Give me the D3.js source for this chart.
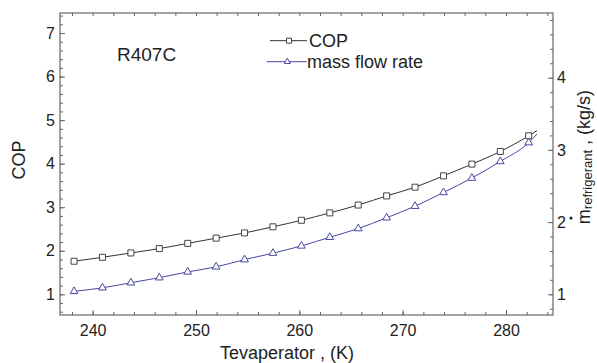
<!DOCTYPE html>
<html>
<head>
<meta charset="utf-8">
<script src="https://cdn.jsdelivr.net/npm/d3@7"></script>
<style>
  body { margin: 0; background: #fff; }
  text { font-family: "Liberation Sans", Arial, sans-serif; fill: #222; }
</style>
</head>
<body>
<div id="chart"></div>
<script>
// evaporator temperature at each marker (K)
var temps = [238.2, 240.95, 243.7, 246.45, 249.2, 251.95, 254.7, 257.45, 260.2,
             262.95, 265.7, 268.45, 271.2, 273.95, 276.7, 279.45, 282.2];
var cop = [1.76, 1.85, 1.95, 2.05, 2.17, 2.29, 2.41, 2.55, 2.70,
           2.87, 3.05, 3.26, 3.46, 3.72, 3.99, 4.28, 4.64];
var massFlow = [1.04, 1.09, 1.16, 1.23, 1.31, 1.38, 1.48, 1.57, 1.67,
                1.79, 1.91, 2.06, 2.22, 2.41, 2.61, 2.84, 3.10];
// curves run a little past the last marker
var endTemp = 283.0, endCop = 4.76, endMass = 3.22;

var xMajor = [240, 250, 260, 270, 280];
var copMajor = [1, 2, 3, 4, 5, 6, 7];
var massMajor = [1, 2, 3, 4];

var svgWidth = 597, svgHeight = 363;
var plotL = 60, plotR = 553, plotT = 13, plotB = 315;

var svg = d3.select('#chart').append('svg')
    .attr('width', svgWidth).attr('height', svgHeight);

var x = d3.scaleLinear().domain([236.84, 284.55]).range([plotL, plotR]);
var yL = d3.scaleLinear().domain([0.525, 7.46]).range([plotB, plotT]);
var yR = d3.scaleLinear().domain([0.713, 4.896]).range([plotB, plotT]);

function steps(a, b, s) {
    var out = [];
    for (var v = a; v <= b + 1e-9; v += s) out.push(+v.toFixed(2));
    return out;
}

function drawAxis(axisFn, scale, minor, major, pos, pad, fs) {
    var g1 = svg.append('g').attr('transform', pos)
        .call(axisFn(scale).tickValues(minor).tickSize(-3).tickFormat(''));
    var g2 = svg.append('g').attr('transform', pos)
        .call(axisFn(scale).tickValues(major).tickSize(-5).tickPadding(pad).tickFormat(d3.format('d')));
    [g1, g2].forEach(function (g) {
        g.select('.domain').remove();
        g.selectAll('line').attr('stroke', '#666');
        g.selectAll('text').style('font-size', fs + 'px')
            .style('font-family', '"Liberation Sans", Arial, sans-serif').attr('fill', '#222');
    });
    return g2;
}

drawAxis(d3.axisBottom, x, steps(238, 284, 2), xMajor, 'translate(0,' + plotB + ')', 10, 16);
drawAxis(d3.axisTop, x, steps(238, 284, 2), [], 'translate(0,' + plotT + ')', 0, 16);
drawAxis(d3.axisLeft, yL, steps(0.6, 7.4, 0.2), copMajor, 'translate(' + plotL + ',0)', 5, 16);
drawAxis(d3.axisRight, yR, steps(0.8, 4.8, 0.2), massMajor, 'translate(' + plotR + ',0)', 4, 16);

svg.append('rect')
    .attr('x', plotL).attr('y', plotT)
    .attr('width', plotR - plotL).attr('height', plotB - plotT)
    .attr('fill', 'none').attr('stroke', '#666').attr('stroke-width', 1.2);

var copPts = temps.map(function (t, i) { return [t, cop[i]]; }).concat([[endTemp, endCop]]);
var massPts = temps.map(function (t, i) { return [t, massFlow[i]]; }).concat([[endTemp, endMass]]);

var copLine = d3.line().curve(d3.curveMonotoneX)
    .x(function (d) { return x(d[0]); }).y(function (d) { return yL(d[1]); });
var massLine = d3.line().curve(d3.curveMonotoneX)
    .x(function (d) { return x(d[0]); }).y(function (d) { return yR(d[1]); });

var copColor = '#333', massColor = '#4848a0';

svg.append('path').attr('d', copLine(copPts))
    .attr('fill', 'none').attr('stroke', copColor).attr('stroke-width', 1);
svg.append('path').attr('d', massLine(massPts))
    .attr('fill', 'none').attr('stroke', massColor).attr('stroke-width', 1);

var square = d3.symbol().type(d3.symbolSquare).size(36);
var triangle = d3.symbol().type(d3.symbolTriangle).size(26);

svg.selectAll('.sq').data(temps).enter().append('path')
    .attr('class', 'sq')
    .attr('d', square)
    .attr('transform', function (d, i) { return 'translate(' + x(d) + ',' + yL(cop[i]) + ')'; })
    .attr('fill', '#fff').attr('stroke', '#444').attr('stroke-width', 1);

svg.selectAll('.tri').data(temps).enter().append('path')
    .attr('class', 'tri')
    .attr('d', triangle)
    .attr('transform', function (d, i) { return 'translate(' + x(d) + ',' + yR(massFlow[i]) + ')'; })
    .attr('fill', '#fff').attr('stroke', massColor).attr('stroke-width', 1);

// legend
var leg = svg.append('g');
leg.append('line').attr('x1', 270).attr('x2', 307).attr('y1', 40.7).attr('y2', 40.7)
    .attr('stroke', copColor);
leg.append('path').attr('d', d3.symbol().type(d3.symbolSquare).size(25))
    .attr('transform', 'translate(289,40.7)').attr('fill', '#fff').attr('stroke', '#444');
leg.append('text').attr('x', 309).attr('y', 47).style('font-size', '18px').text('COP');

leg.append('line').attr('x1', 266.7).attr('x2', 306.7).attr('y1', 61.7).attr('y2', 61.7)
    .attr('stroke', massColor);
leg.append('path').attr('d', d3.symbol().type(d3.symbolTriangle).size(16))
    .attr('transform', 'translate(287.3,61.7)').attr('fill', '#fff').attr('stroke', massColor);
leg.append('text').attr('x', 307).attr('y', 68).style('font-size', '18px').text('mass flow rate');

svg.append('text').attr('x', 117).attr('y', 61).style('font-size', '19px').text('R407C');

// axis titles
svg.append('text').attr('x', 287).attr('y', 359).attr('text-anchor', 'middle')
    .style('font-size', '18px').text('Tevaperator , (K)');

svg.append('text').attr('transform', 'translate(25,160) rotate(-90)')
    .attr('text-anchor', 'middle').style('font-size', '18px').text('COP');

var rt = svg.append('text').attr('transform', 'translate(590,157) rotate(-90)')
    .attr('text-anchor', 'middle').style('font-size', '18px');
rt.append('tspan').text('m');
rt.append('tspan').attr('dy', 2).style('font-size', '13px').text('refrigerant');
rt.append('tspan').attr('dy', -2).text(' , (kg/s)');

svg.append('circle').attr('cx', 571).attr('cy', 218).attr('r', 1.6).attr('fill', '#222');
</script>
</body>
</html>
